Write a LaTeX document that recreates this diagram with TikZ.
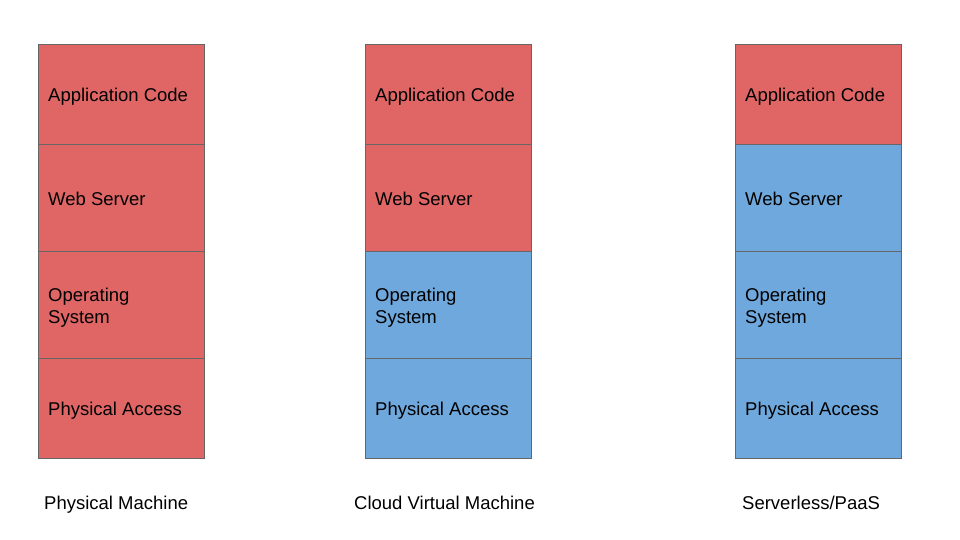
\documentclass[tikz,border=0pt]{standalone}
\usepackage{fontspec}
\setmainfont{Liberation Sans}
\definecolor{cellred}{HTML}{E06666}
\definecolor{cellblue}{HTML}{6FA8DC}
\definecolor{cellline}{HTML}{666666}
\begin{document}
\begin{tikzpicture}[x=1pt,y=-1pt,
  cell/.style={draw=cellline, line width=0.8pt, anchor=north west, minimum width=166pt,
    inner sep=0pt},
  red/.style={cell, fill=cellred},
  blue/.style={cell, fill=cellblue},
  celltext/.style={anchor=west, inner sep=0pt, align=left,
    font=\fontsize{18.5}{22}\selectfont},
  caption/.style={anchor=base west, inner sep=0pt, font=\fontsize{18.5}{22}\selectfont}]
\useasboundingbox (0,0) rectangle (960,540);
% Physical Machine
\node[red, minimum height=100pt] (pm1) at (38,44) {};
\node[red, minimum height=107pt] (pm2) at (38,144) {};
\node[red, minimum height=107pt] (pm3) at (38,251) {};
\node[red, minimum height=100pt] (pm4) at (38,358) {};
% Cloud VM
\node[red, minimum height=100pt] (vm1) at (365,44) {};
\node[red, minimum height=107pt] (vm2) at (365,144) {};
\node[blue, minimum height=107pt] (vm3) at (365,251) {};
\node[blue, minimum height=100pt] (vm4) at (365,358) {};
% Serverless
\node[red, minimum height=100pt] (sl1) at (735,44) {};
\node[blue, minimum height=107pt] (sl2) at (735,144) {};
\node[blue, minimum height=107pt] (sl3) at (735,251) {};
\node[blue, minimum height=100pt] (sl4) at (735,358) {};
% texts
\foreach \c in {pm,vm,sl}{
  \node[celltext] (\c1t) at ([xshift=10pt,yshift=-2.5pt]\c1.west) {Application Code};
  \node[celltext] (\c2t) at ([xshift=10pt,yshift=-0.5pt]\c2.west) {Web Server};
  \node[celltext] (\c3t) at ([xshift=10pt,yshift=-3pt]\c3.west) {Operating\\System};
  \node[celltext] (\c4t) at ([xshift=10pt,yshift=-2.5pt]\c4.west) {Physical Access};
}
% captions
\node[caption] (c1) at (44,509) {Physical Machine};
\node[caption] (c2) at (354,509) {Cloud Virtual Machine};
\node[caption] (c3) at (742,509) {Serverless/PaaS};
\end{tikzpicture}
\end{document}
